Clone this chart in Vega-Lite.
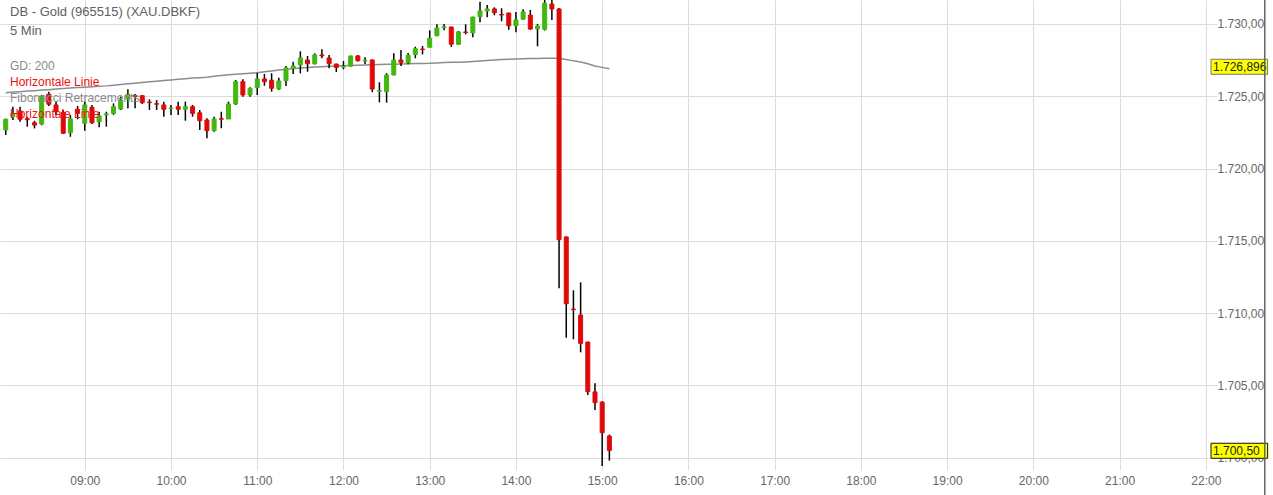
{
"$schema": "https://vega.github.io/schema/vega-lite/v6.json",
"width": 1215, "height": 470,
"autosize": {"type": "none"},
"padding": {"left": 0, "top": 0, "right": 58, "bottom": 25},
"background": "white",
"config": {
  "view": {"stroke": null},
  "font": "Liberation Sans",
  "locale": {"number": {"decimal": ",", "thousands": ".", "grouping": [3], "currency": ["", " €"]}}
},
"data": {"values": [
{"t":"2020-01-02T08:05:00","o":1722.67,"h":1723.45,"l":1722.32,"c":1723.41,"ma":1725.25},
{"t":"2020-01-02T08:10:00","o":1723.6,"h":1724.28,"l":1723.36,"c":1723.8,"ma":1725.29},
{"t":"2020-01-02T08:15:00","o":1723.98,"h":1724.28,"l":1723.24,"c":1723.41,"ma":1725.32},
{"t":"2020-01-02T08:20:00","o":1723.45,"h":1723.59,"l":1722.9,"c":1723.38,"ma":1725.36},
{"t":"2020-01-02T08:25:00","o":1723.17,"h":1723.3,"l":1722.78,"c":1723.01,"ma":1725.39},
{"t":"2020-01-02T08:30:00","o":1723.08,"h":1725.1,"l":1723.0,"c":1725.02,"ma":1725.43},
{"t":"2020-01-02T08:35:00","o":1725.14,"h":1725.32,"l":1724.33,"c":1724.45,"ma":1725.46},
{"t":"2020-01-02T08:40:00","o":1724.4,"h":1724.63,"l":1723.71,"c":1723.93,"ma":1725.5},
{"t":"2020-01-02T08:45:00","o":1723.89,"h":1724.05,"l":1722.39,"c":1722.44,"ma":1725.53},
{"t":"2020-01-02T08:50:00","o":1722.48,"h":1723.71,"l":1722.2,"c":1723.43,"ma":1725.57},
{"t":"2020-01-02T08:55:00","o":1724.1,"h":1724.33,"l":1723.41,"c":1723.82,"ma":1725.6},
{"t":"2020-01-02T09:00:00","o":1723.13,"h":1724.63,"l":1722.62,"c":1724.4,"ma":1725.63},
{"t":"2020-01-02T09:05:00","o":1724.24,"h":1724.4,"l":1723.08,"c":1723.17,"ma":1725.66},
{"t":"2020-01-02T09:10:00","o":1723.24,"h":1723.93,"l":1722.85,"c":1723.64,"ma":1725.69},
{"t":"2020-01-02T09:15:00","o":1723.72,"h":1723.93,"l":1722.9,"c":1723.78,"ma":1725.72},
{"t":"2020-01-02T09:20:00","o":1723.82,"h":1724.51,"l":1723.71,"c":1724.28,"ma":1725.77},
{"t":"2020-01-02T09:25:00","o":1724.12,"h":1724.97,"l":1724.05,"c":1724.74,"ma":1725.81},
{"t":"2020-01-02T09:30:00","o":1724.81,"h":1725.48,"l":1724.17,"c":1725.14,"ma":1725.86},
{"t":"2020-01-02T09:35:00","o":1725.06,"h":1725.16,"l":1724.17,"c":1724.98,"ma":1725.9},
{"t":"2020-01-02T09:40:00","o":1725.04,"h":1725.09,"l":1724.47,"c":1724.56,"ma":1725.95},
{"t":"2020-01-02T09:45:00","o":1724.6,"h":1724.79,"l":1724.05,"c":1724.56,"ma":1726.0},
{"t":"2020-01-02T09:50:00","o":1724.49,"h":1724.74,"l":1724.05,"c":1724.45,"ma":1726.04},
{"t":"2020-01-02T09:55:00","o":1724.4,"h":1724.63,"l":1723.59,"c":1724.1,"ma":1726.09},
{"t":"2020-01-02T10:00:00","o":1724.15,"h":1724.4,"l":1723.71,"c":1724.19,"ma":1726.13},
{"t":"2020-01-02T10:05:00","o":1724.28,"h":1724.63,"l":1723.71,"c":1724.1,"ma":1726.17},
{"t":"2020-01-02T10:10:00","o":1724.1,"h":1724.63,"l":1723.31,"c":1724.28,"ma":1726.22},
{"t":"2020-01-02T10:15:00","o":1724.28,"h":1724.4,"l":1723.59,"c":1723.82,"ma":1726.26},
{"t":"2020-01-02T10:20:00","o":1723.86,"h":1724.05,"l":1722.67,"c":1723.31,"ma":1726.28},
{"t":"2020-01-02T10:25:00","o":1723.36,"h":1723.48,"l":1722.09,"c":1722.62,"ma":1726.31},
{"t":"2020-01-02T10:30:00","o":1722.62,"h":1723.59,"l":1722.55,"c":1723.43,"ma":1726.38},
{"t":"2020-01-02T10:35:00","o":1723.45,"h":1723.93,"l":1722.79,"c":1723.41,"ma":1726.44},
{"t":"2020-01-02T10:40:00","o":1723.43,"h":1724.63,"l":1723.43,"c":1724.47,"ma":1726.49},
{"t":"2020-01-02T10:45:00","o":1724.47,"h":1726.13,"l":1724.4,"c":1726.01,"ma":1726.52},
{"t":"2020-01-02T10:50:00","o":1726.01,"h":1726.17,"l":1724.97,"c":1725.09,"ma":1726.56},
{"t":"2020-01-02T10:55:00","o":1725.09,"h":1725.62,"l":1724.97,"c":1725.55,"ma":1726.6},
{"t":"2020-01-02T11:00:00","o":1725.6,"h":1726.63,"l":1725.09,"c":1726.2,"ma":1726.63},
{"t":"2020-01-02T11:05:00","o":1726.2,"h":1726.54,"l":1725.73,"c":1726.01,"ma":1726.69},
{"t":"2020-01-02T11:10:00","o":1726.11,"h":1726.59,"l":1725.32,"c":1725.55,"ma":1726.75},
{"t":"2020-01-02T11:15:00","o":1725.52,"h":1726.29,"l":1725.43,"c":1726.06,"ma":1726.81},
{"t":"2020-01-02T11:20:00","o":1726.08,"h":1727.1,"l":1725.71,"c":1726.96,"ma":1726.86},
{"t":"2020-01-02T11:25:00","o":1726.91,"h":1727.39,"l":1726.54,"c":1727.09,"ma":1726.92},
{"t":"2020-01-02T11:30:00","o":1727.18,"h":1728.11,"l":1726.59,"c":1727.65,"ma":1726.96},
{"t":"2020-01-02T11:35:00","o":1727.51,"h":1727.79,"l":1726.7,"c":1727.25,"ma":1726.99},
{"t":"2020-01-02T11:40:00","o":1727.25,"h":1727.97,"l":1727.2,"c":1727.86,"ma":1727.02},
{"t":"2020-01-02T11:45:00","o":1727.86,"h":1728.25,"l":1727.63,"c":1727.8,"ma":1727.05},
{"t":"2020-01-02T11:50:00","o":1727.65,"h":1727.86,"l":1726.94,"c":1727.25,"ma":1727.08},
{"t":"2020-01-02T11:55:00","o":1727.23,"h":1727.25,"l":1726.68,"c":1727.0,"ma":1727.1},
{"t":"2020-01-02T12:00:00","o":1727.02,"h":1727.44,"l":1726.87,"c":1727.07,"ma":1727.12},
{"t":"2020-01-02T12:05:00","o":1727.09,"h":1727.8,"l":1727.05,"c":1727.79,"ma":1727.13},
{"t":"2020-01-02T12:10:00","o":1727.79,"h":1727.85,"l":1727.4,"c":1727.46,"ma":1727.15},
{"t":"2020-01-02T12:15:00","o":1727.44,"h":1727.7,"l":1727.23,"c":1727.48,"ma":1727.16},
{"t":"2020-01-02T12:20:00","o":1727.51,"h":1727.55,"l":1725.28,"c":1725.5,"ma":1727.18},
{"t":"2020-01-02T12:25:00","o":1725.35,"h":1725.97,"l":1724.58,"c":1725.4,"ma":1727.19},
{"t":"2020-01-02T12:30:00","o":1725.32,"h":1726.6,"l":1724.56,"c":1726.47,"ma":1727.21},
{"t":"2020-01-02T12:35:00","o":1726.47,"h":1727.97,"l":1726.47,"c":1727.51,"ma":1727.22},
{"t":"2020-01-02T12:40:00","o":1727.51,"h":1728.2,"l":1727.09,"c":1727.32,"ma":1727.23},
{"t":"2020-01-02T12:45:00","o":1727.32,"h":1728.0,"l":1727.21,"c":1727.83,"ma":1727.25},
{"t":"2020-01-02T12:50:00","o":1727.88,"h":1728.43,"l":1727.63,"c":1728.29,"ma":1727.26},
{"t":"2020-01-02T12:55:00","o":1728.27,"h":1728.48,"l":1727.9,"c":1728.23,"ma":1727.27},
{"t":"2020-01-02T13:00:00","o":1728.39,"h":1729.56,"l":1728.39,"c":1729.01,"ma":1727.28},
{"t":"2020-01-02T13:05:00","o":1729.19,"h":1729.98,"l":1729.15,"c":1729.72,"ma":1727.31},
{"t":"2020-01-02T13:10:00","o":1729.75,"h":1730.0,"l":1729.56,"c":1729.8,"ma":1727.33},
{"t":"2020-01-02T13:15:00","o":1729.79,"h":1729.82,"l":1728.41,"c":1728.6,"ma":1727.35},
{"t":"2020-01-02T13:20:00","o":1728.6,"h":1729.52,"l":1728.55,"c":1729.45,"ma":1727.36},
{"t":"2020-01-02T13:25:00","o":1729.45,"h":1729.98,"l":1729.29,"c":1729.41,"ma":1727.38},
{"t":"2020-01-02T13:30:00","o":1729.38,"h":1730.5,"l":1729.08,"c":1730.48,"ma":1727.41},
{"t":"2020-01-02T13:35:00","o":1730.5,"h":1731.54,"l":1730.12,"c":1730.9,"ma":1727.44},
{"t":"2020-01-02T13:40:00","o":1730.9,"h":1731.31,"l":1730.46,"c":1731.04,"ma":1727.48},
{"t":"2020-01-02T13:45:00","o":1731.04,"h":1731.15,"l":1730.6,"c":1730.78,"ma":1727.51},
{"t":"2020-01-02T13:50:00","o":1730.66,"h":1731.09,"l":1730.19,"c":1730.62,"ma":1727.54},
{"t":"2020-01-02T13:55:00","o":1730.76,"h":1730.78,"l":1729.61,"c":1729.88,"ma":1727.56},
{"t":"2020-01-02T14:00:00","o":1729.88,"h":1730.83,"l":1729.43,"c":1730.28,"ma":1727.58},
{"t":"2020-01-02T14:05:00","o":1730.33,"h":1731.02,"l":1730.3,"c":1730.83,"ma":1727.6},
{"t":"2020-01-02T14:10:00","o":1730.62,"h":1730.97,"l":1729.6,"c":1729.65,"ma":1727.61},
{"t":"2020-01-02T14:15:00","o":1729.67,"h":1730.0,"l":1728.46,"c":1729.86,"ma":1727.62},
{"t":"2020-01-02T14:20:00","o":1729.63,"h":1731.66,"l":1729.55,"c":1731.45,"ma":1727.63},
{"t":"2020-01-02T14:25:00","o":1731.38,"h":1731.66,"l":1730.28,"c":1731.04,"ma":1727.63},
{"t":"2020-01-02T14:30:00","o":1731.04,"h":1731.1,"l":1711.72,"c":1715.08,"ma":1727.63},
{"t":"2020-01-02T14:35:00","o":1715.27,"h":1715.3,"l":1708.3,"c":1710.65,"ma":1727.55},
{"t":"2020-01-02T14:40:00","o":1710.28,"h":1711.58,"l":1708.19,"c":1710.24,"ma":1727.45},
{"t":"2020-01-02T14:45:00","o":1709.87,"h":1712.13,"l":1707.29,"c":1707.91,"ma":1727.37},
{"t":"2020-01-02T14:50:00","o":1708.0,"h":1708.02,"l":1704.34,"c":1704.57,"ma":1727.25},
{"t":"2020-01-02T14:55:00","o":1704.55,"h":1705.15,"l":1703.3,"c":1703.81,"ma":1727.1},
{"t":"2020-01-02T15:00:00","o":1703.85,"h":1703.9,"l":1699.43,"c":1701.73,"ma":1727.0},
{"t":"2020-01-02T15:05:00","o":1701.5,"h":1701.6,"l":1699.8,"c":1700.5,"ma":1726.9}
]},
"encoding": {
  "x": {"field": "t", "type": "temporal", "title": null,
    "scale": {"domain": [{"year":2020,"month":1,"date":2,"hours":8,"minutes":4,"seconds":30},{"year":2020,"month":1,"date":2,"hours":22,"minutes":2,"seconds":54}], "nice": false},
    "axis": {"values": [
      {"year":2020,"month":1,"date":2,"hours":9},{"year":2020,"month":1,"date":2,"hours":10},{"year":2020,"month":1,"date":2,"hours":11},{"year":2020,"month":1,"date":2,"hours":12},{"year":2020,"month":1,"date":2,"hours":13},{"year":2020,"month":1,"date":2,"hours":14},{"year":2020,"month":1,"date":2,"hours":15},{"year":2020,"month":1,"date":2,"hours":16},{"year":2020,"month":1,"date":2,"hours":17},{"year":2020,"month":1,"date":2,"hours":18},{"year":2020,"month":1,"date":2,"hours":19},{"year":2020,"month":1,"date":2,"hours":20},{"year":2020,"month":1,"date":2,"hours":21},{"year":2020,"month":1,"date":2,"hours":22}],
      "format": "%H:%M", "grid": true, "gridColor": "#dcdcdc", "domain": false, "ticks": false,
      "labelPadding": 5, "labelColor": "#666666", "labelFontSize": 12, "labelFlush": false, "labelOverlap": false, "title": null}}
},
"layer": [
  {"mark": {"type": "line", "color": "#8c8c8c", "strokeWidth": 1.5},
   "encoding": {"y": {"field": "ma", "type": "quantitative", "title": null,
     "scale": {"domain": [1699.15, 1731.66], "nice": false, "zero": false},
     "axis": {"orient": "right", "values": [1700, 1705, 1710, 1715, 1720, 1725, 1730], "format": ",.2f",
       "grid": true, "gridColor": "#dcdcdc", "domain": false, "tickColor": "#dcdcdc", "tickSize": 2,
       "labelPadding": 0, "labelColor": "#666666", "labelFontSize": 12, "labelAlign": "left", "title": null}}}},
  {"mark": {"type": "rule", "color": "#000000", "strokeWidth": 1.5},
   "encoding": {"y": {"field": "l", "type": "quantitative", "title": null, "scale": {"domain": [1699.15, 1731.66], "nice": false, "zero": false}}, "y2": {"field": "h"}}},
  {"mark": {"type": "bar", "width": 4, "strokeWidth": 1},
   "encoding": {"y": {"field": "o", "type": "quantitative", "title": null, "scale": {"domain": [1699.15, 1731.66], "nice": false, "zero": false}}, "y2": {"field": "c"},
     "color": {"condition": {"test": "datum.c >= datum.o", "value": "#41b70f"}, "value": "#de0a0a"},
     "stroke": {"condition": {"test": "datum.c >= datum.o", "value": "#41b70f"}, "value": "#de0a0a"}}},
  {"data": {"values": [
     {"t": "2020-01-02T08:08:00", "p": 1730.58, "label": "DB - Gold (965515) (XAU.DBKF)"},
     {"t": "2020-01-02T08:08:00", "p": 1729.24, "label": "5 Min"}]},
   "mark": {"type": "text", "align": "left", "baseline": "alphabetic", "fontSize": 13, "color": "#606060"},
   "encoding": {"x": {"field": "t", "type": "temporal", "title": null, "scale": {"domain": [{"year":2020,"month":1,"date":2,"hours":8,"minutes":4,"seconds":30},{"year":2020,"month":1,"date":2,"hours":22,"minutes":2,"seconds":54}], "nice": false}},
     "y": {"field": "p", "type": "quantitative", "title": null, "scale": {"domain": [1699.15, 1731.66], "nice": false, "zero": false}}, "text": {"field": "label"}}},
  {"data": {"values": [
     {"t": "2020-01-02T08:08:00", "p": 1726.85, "label": "GD: 200"},
     {"t": "2020-01-02T08:08:00", "p": 1724.6, "label": "Fibonacci Retracements"}]},
   "mark": {"type": "text", "align": "left", "baseline": "alphabetic", "fontSize": 12, "color": "#8a8a8a"},
   "encoding": {"x": {"field": "t", "type": "temporal", "title": null, "scale": {"domain": [{"year":2020,"month":1,"date":2,"hours":8,"minutes":4,"seconds":30},{"year":2020,"month":1,"date":2,"hours":22,"minutes":2,"seconds":54}], "nice": false}},
     "y": {"field": "p", "type": "quantitative", "title": null, "scale": {"domain": [1699.15, 1731.66], "nice": false, "zero": false}}, "text": {"field": "label"}}},
  {"data": {"values": [
     {"t": "2020-01-02T08:08:00", "p": 1725.71, "label": "Horizontale Linie"},
     {"t": "2020-01-02T08:08:00", "p": 1723.5, "label": "Horizontale Linie"}]},
   "mark": {"type": "text", "align": "left", "baseline": "alphabetic", "fontSize": 12, "color": "#ee1111"},
   "encoding": {"x": {"field": "t", "type": "temporal", "title": null, "scale": {"domain": [{"year":2020,"month":1,"date":2,"hours":8,"minutes":4,"seconds":30},{"year":2020,"month":1,"date":2,"hours":22,"minutes":2,"seconds":54}], "nice": false}},
     "y": {"field": "p", "type": "quantitative", "title": null, "scale": {"domain": [1699.15, 1731.66], "nice": false, "zero": false}}, "text": {"field": "label"}}},
  {"data": {"values": [
     {"t": "2020-01-02T22:03:36", "t2": "2020-01-02T22:43:00", "p": 1727.56, "p2": 1726.52}]},
   "mark": {"type": "rect", "fill": "#ffff00", "stroke": "#777777", "strokeWidth": 1},
   "encoding": {"x": {"field": "t", "type": "temporal", "title": null, "scale": {"domain": [{"year":2020,"month":1,"date":2,"hours":8,"minutes":4,"seconds":30},{"year":2020,"month":1,"date":2,"hours":22,"minutes":2,"seconds":54}], "nice": false}}, "x2": {"field": "t2"},
     "y": {"field": "p", "type": "quantitative", "title": null, "scale": {"domain": [1699.15, 1731.66], "nice": false, "zero": false}}, "y2": {"field": "p2"}}},
  {"data": {"values": [
     {"t": "2020-01-02T22:03:36", "t2": "2020-01-02T22:43:00", "p": 1701.0, "p2": 1699.96}]},
   "mark": {"type": "rect", "fill": "#ffff00", "stroke": "#111111", "strokeWidth": 1},
   "encoding": {"x": {"field": "t", "type": "temporal", "title": null, "scale": {"domain": [{"year":2020,"month":1,"date":2,"hours":8,"minutes":4,"seconds":30},{"year":2020,"month":1,"date":2,"hours":22,"minutes":2,"seconds":54}], "nice": false}}, "x2": {"field": "t2"},
     "y": {"field": "p", "type": "quantitative", "title": null, "scale": {"domain": [1699.15, 1731.66], "nice": false, "zero": false}}, "y2": {"field": "p2"}}},
  {"data": {"values": [
     {"t": "2020-01-02T22:05:00", "p": 1726.72, "label": "1.726,896"},
     {"t": "2020-01-02T22:05:00", "p": 1700.17, "label": "1.700,50"}]},
   "mark": {"type": "text", "align": "left", "baseline": "alphabetic", "fontSize": 12, "color": "#222222"},
   "encoding": {"x": {"field": "t", "type": "temporal", "title": null, "scale": {"domain": [{"year":2020,"month":1,"date":2,"hours":8,"minutes":4,"seconds":30},{"year":2020,"month":1,"date":2,"hours":22,"minutes":2,"seconds":54}], "nice": false}},
     "y": {"field": "p", "type": "quantitative", "title": null, "scale": {"domain": [1699.15, 1731.66], "nice": false, "zero": false}}, "text": {"field": "label"}}},
  {"data": {"values": [{"t": "2020-01-02T22:41:00", "p": 1731.66, "p2": 1697.4}]},
   "mark": {"type": "rule", "color": "#666666", "strokeWidth": 1.5},
   "encoding": {"x": {"field": "t", "type": "temporal", "title": null, "scale": {"domain": [{"year":2020,"month":1,"date":2,"hours":8,"minutes":4,"seconds":30},{"year":2020,"month":1,"date":2,"hours":22,"minutes":2,"seconds":54}], "nice": false}},
     "y": {"field": "p", "type": "quantitative", "title": null, "scale": {"domain": [1699.15, 1731.66], "nice": false, "zero": false}}, "y2": {"field": "p2"}}}
]
}
